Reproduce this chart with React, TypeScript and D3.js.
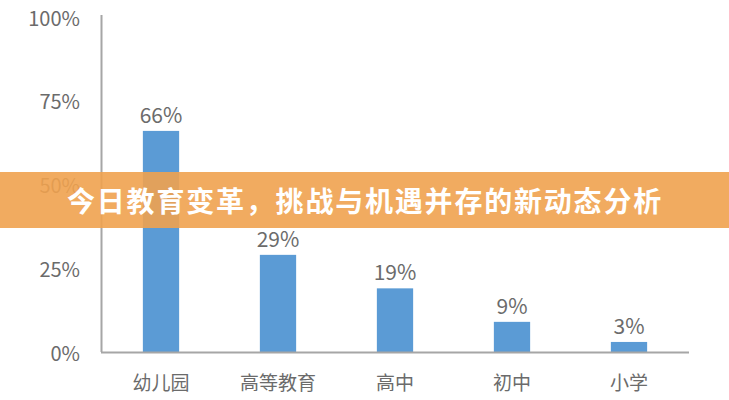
import React from "react";
import * as d3 from "d3";

const categories = ["幼儿园", "高等教育", "高中", "初中", "小学"];
const values = [66, 29, 19, 9, 3];
const yTicks = [0, 25, 50, 75, 100];
const title = "今日教育变革，挑战与机遇并存的新动态分析";

const W = 729;
const H = 400;

export default function App() {
  const x = d3.scaleBand<string>().domain(categories).range([102.5, 687.5]).paddingInner(0.69).paddingOuter(0.345);
  const y = d3.scaleLinear().domain([0, 100]).range([352, 17]);
  const font = "'Noto Sans CJK SC', 'Open Sans', sans-serif";
  const gray = "#6b6b6b";
  return (
    <svg width={W} height={H} style={{ position: "absolute", left: 0, top: 0, background: "#fff" }} fontFamily={font}>
      <rect width={W} height={H} fill="#fff" />
      {yTicks.map((t) => (
        <text key={t} x={80} y={y(t)} textAnchor="end" dominantBaseline="central" fontSize={20} fill={gray}>
          {t}%
        </text>
      ))}
      <line x1={101.5} x2={101.5} y1={y(100) - 2} y2={y(0)} stroke="#a6a6a6" strokeWidth={2} />
      {categories.map((c, i) => (
        <g key={c}>
          <rect x={x(c)} y={y(values[i])} width={x.bandwidth()} height={y(0) - y(values[i])} fill="#5b9bd5" />
          <text x={(x(c) as number) + x.bandwidth() / 2} y={y(values[i]) - 8} textAnchor="middle" fontSize={21} fill={gray}>
            {values[i]}%
          </text>
          <text x={(x(c) as number) + x.bandwidth() / 2} y={381} textAnchor="middle" dominantBaseline="central" fontSize={19} fill={gray}>
            {c}
          </text>
        </g>
      ))}
      <line x1={101} x2={689} y1={352.5} y2={352.5} stroke="#a6a6a6" strokeWidth={2} />
      <rect x={0} y={172} width={W} height={56} fill="#efa24f" fillOpacity={0.9} />
      <text x={365} y={200} textAnchor="middle" dominantBaseline="central" fontSize={28} fontWeight="bold" fill="#fff" letterSpacing={1.8}>
        {title}
      </text>
    </svg>
  );
}
